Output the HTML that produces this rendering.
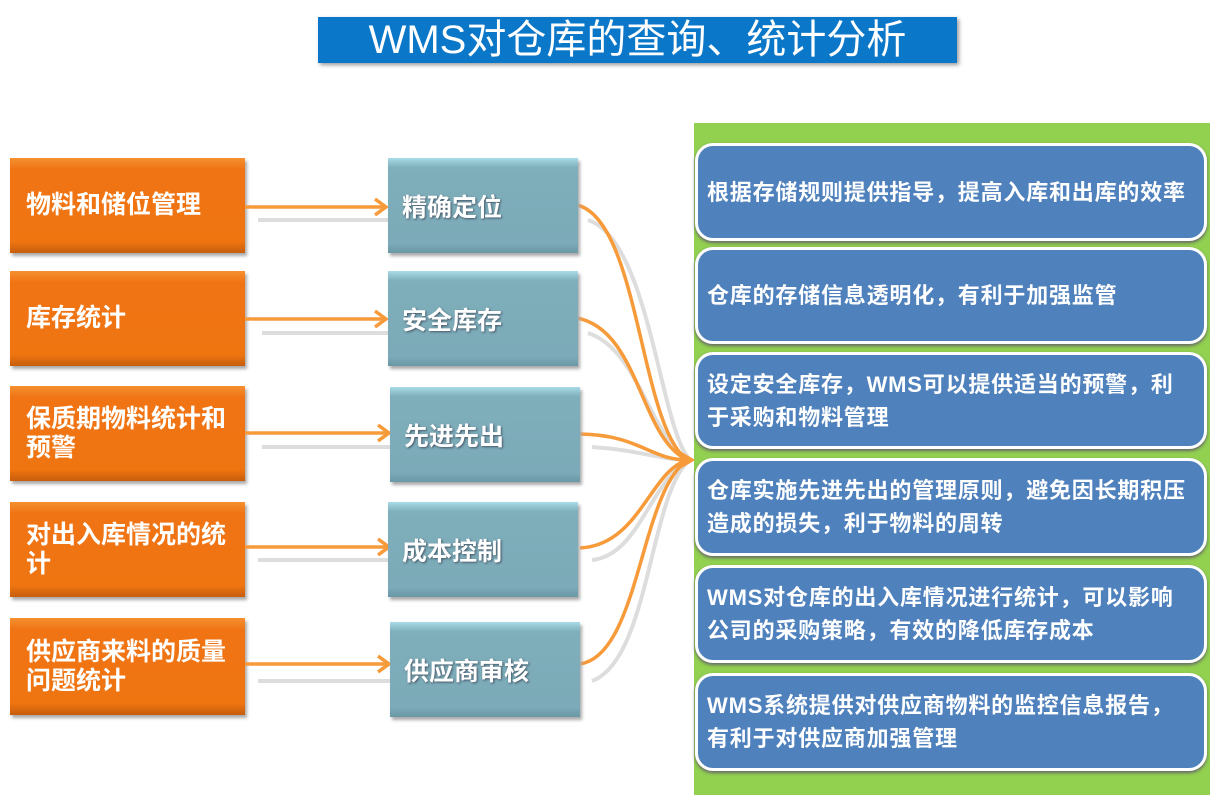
<!DOCTYPE html>
<html><head><meta charset="utf-8"><style>
body{margin:0;width:1210px;height:795px;background:#fff;position:relative;overflow:hidden;font-family:"Liberation Sans","Noto Sans CJK SC",sans-serif}
.t{position:absolute;left:318px;top:17px;width:639px;height:46px;background:#0b77c8;color:#fff;font-size:40px;line-height:46px;text-align:center;box-shadow:2px 2px 4px #999}
.o{position:absolute;left:10px;width:235px;background:linear-gradient(#f59030,#f07414 12%,#ef7511 88%,#c65d0b);color:#fff;font-weight:bold;font-size:25px;box-shadow:2px 3px 3px #aaa;display:flex;align-items:center;padding-left:16px;box-sizing:border-box;line-height:29px}
.c{position:absolute;width:190px;height:95px;background:linear-gradient(#a8dce8,#7fafbb 10%,#7caab8 90%,#6a98a5);color:#fff;font-weight:bold;font-size:25px;box-shadow:2px 3px 3px #aaa;display:flex;align-items:center;padding-left:14px;box-sizing:border-box;text-shadow:1px 1px 2px #456}
.g{position:absolute;left:694px;top:123px;width:516px;height:672px;background:#92d050}
.b{position:absolute;left:695px;width:512px;background:#4f81bd;border:3px solid #fff;border-radius:18px;box-sizing:border-box;color:#fff;font-weight:bold;font-size:22px;letter-spacing:0.8px;line-height:33px;display:flex;align-items:center;padding:0 6px 0 9px;box-shadow:0 2px 3px #666;white-space:nowrap}
</style></head><body>
<div class="t">WMS对仓库的查询、统计分析</div>
<div class="o" style="top:158px;height:95px">物料和储位管理</div>
<div class="o" style="top:271px;height:95px">库存统计</div>
<div class="o" style="top:386px;height:95px">保质期物料统计和<br>预警</div>
<div class="o" style="top:502px;height:95px">对出入库情况的统<br>计</div>
<div class="o" style="top:618px;height:97px">供应商来料的质量<br>问题统计</div>
<svg width="1210" height="795" style="position:absolute;left:0;top:0">
<g fill="none" stroke="#ddd" stroke-width="4">
<path d="M258 220H388M262 333H388M262 447H392M258 560H392M258 681H392"/>
<path d="M588 220C650 240 660 430 690 460M588 333C640 350 650 440 690 460M592 447C640 450 660 460 690 460M592 560C640 555 650 480 690 460M592 681C650 660 650 490 690 460"/>
</g>
<g fill="none" stroke="#f79a3a" stroke-width="3.5">
<path d="M245 207H385M245 319H385M245 433H388M245 547H388M245 664H388"/>
<path d="M375 199L386 207L375 215M375 311L386 319L375 327M378 425L389 433L378 441M378 539L389 547L378 555M378 656L389 664L378 672"/>
<path d="M577 205C640 220 640 430 688 460M577 318C640 330 640 440 688 460M580 434C640 435 650 460 688 460M580 548C640 545 650 470 688 460M580 664C640 655 640 490 688 460"/>
<path d="M678 452L692 460L678 468"/>
</g>
</svg>
<div class="c" style="left:388px;top:158px">精确定位</div>
<div class="c" style="left:388px;top:271px">安全库存</div>
<div class="c" style="left:390px;top:387px">先进先出</div>
<div class="c" style="left:388px;top:502px">成本控制</div>
<div class="c" style="left:390px;top:622px">供应商审核</div>
<div class="g"></div>
<div class="b" style="top:143px;height:98px">根据存储规则提供指导，提高入库和出库的效率</div>
<div class="b" style="top:247px;height:97px">仓库的存储信息透明化，有利于加强监管</div>
<div class="b" style="top:352px;height:97px">设定安全库存，WMS可以提供适当的预警，利<br>于采购和物料管理</div>
<div class="b" style="top:458px;height:98px">仓库实施先进先出的管理原则，避免因长期积压<br>造成的损失，利于物料的周转</div>
<div class="b" style="top:565px;height:98px">WMS对仓库的出入库情况进行统计，可以影响<br>公司的采购策略，有效的降低库存成本</div>
<div class="b" style="top:673px;height:98px">WMS系统提供对供应商物料的监控信息报告，<br>有利于对供应商加强管理</div>
</body></html>
